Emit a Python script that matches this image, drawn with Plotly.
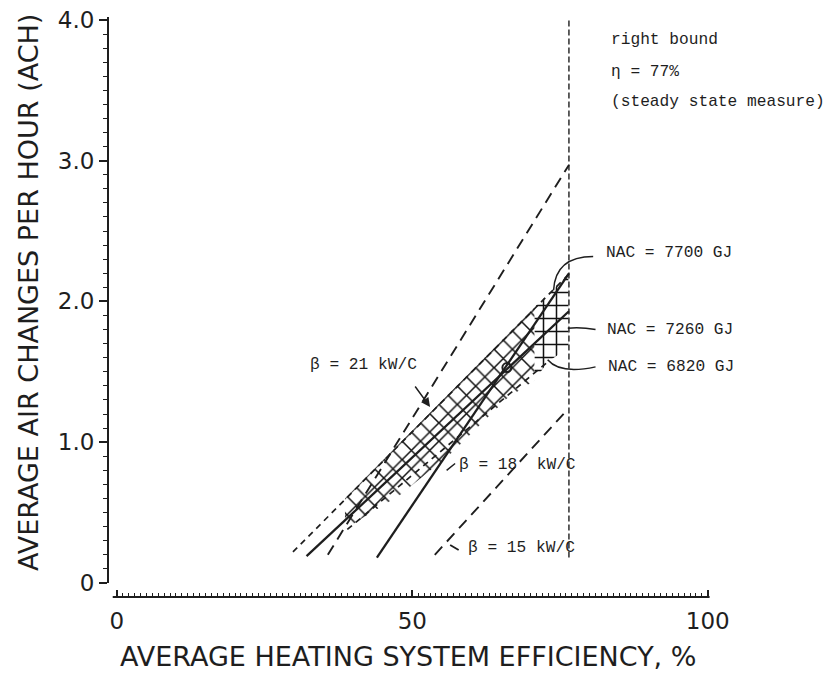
import plotly.graph_objects as go

# ---------------- data ----------------
# efficiency (%) / ACH end points of each drawn line
beta21_x = [35.7, 76.5]
beta21_y = [0.20, 2.97]
beta18_x = [44.0, 76.5]
beta18_y = [0.18, 2.20]
beta15_x = [53.8, 76.0]
beta15_y = [0.20, 1.22]
nac7700_x = [29.8, 76.4]
nac7700_y = [0.22, 2.19]
nac7260_x = [32.1, 76.5]
nac7260_y = [0.19, 1.93]
nac6820_x = [39.0, 72.9]
nac6820_y = [0.38, 1.57]
bound_x = [76.5, 76.5]
bound_y = [0.18, 4.0]
cross_x = [66.0]
cross_y = [1.53]

# hatched region (feasible zone)  -- diagonal-cross part and grid part
hatchA_x = [38.6, 70.7, 70.7, 66.0, 56.3, 47.9, 41.5, 38.6]
hatchA_y = [0.60, 1.96, 1.44, 1.31, 0.91, 0.625, 0.46, 0.38]
hatchB_x = [70.7, 76.4, 76.4, 72.9, 70.7]
hatchB_y = [1.96, 2.19, 1.67, 1.57, 1.44]

x_tickvals = list(range(0, 101, 10))
x_ticktext = ["0", "", "", "", "", "50", "", "", "", "", "100"]
y_tickvals = [0, 1, 2, 3, 4]
y_ticktext = ["0", "1.0", "2.0", "3.0", "4.0"]

INK = "#1e1e1e"
MONO = "Liberation Mono, DejaVu Sans Mono, monospace"
LETTER = "DejaVu Sans, sans-serif"

fig = go.Figure()

def hatch(xs, ys, shape):
    fig.add_trace(go.Scatter(
        x=xs, y=ys, mode="lines", fill="toself",
        line=dict(width=0, color="rgba(0,0,0,0)"),
        fillcolor="white",
        fillpattern=dict(shape=shape, size=13, solidity=0.22,
                         fgcolor="#111111", bgcolor="white", fillmode="replace"),
        hoverinfo="skip", showlegend=False))

hatch(hatchA_x, hatchA_y, "x")
hatch(hatchB_x, hatchB_y, "+")

def line(xs, ys, dash="solid", width=2.0):
    fig.add_trace(go.Scatter(x=xs, y=ys, mode="lines",
                             line=dict(color=INK, width=width, dash=dash),
                             hoverinfo="skip", showlegend=False))

line(beta21_x, beta21_y, dash="11px,7px", width=1.9)
line(beta18_x, beta18_y, width=2.3)
line(beta15_x, beta15_y, dash="11px,7px", width=1.9)
line(nac7700_x, nac7700_y, dash="6px,5px", width=1.7)
line(nac7260_x, nac7260_y, width=2.3)
line(nac6820_x, nac6820_y, dash="6px,5px", width=1.7)
line(bound_x, bound_y, dash="6px,3px", width=1.4)

fig.add_trace(go.Scatter(x=cross_x, y=cross_y, mode="markers",
                         marker=dict(symbol="circle-open", size=9,
                                     color=INK, line=dict(width=2)),
                         hoverinfo="skip", showlegend=False))

# ---------------- axes lines (disjoint, as in the drawing) ----------------
fig.add_shape(type="line", xref="paper", yref="y", x0=0, x1=0, y0=0, y1=4.02,
              line=dict(color=INK, width=2))
fig.add_shape(type="line", xref="x", yref="paper", x0=-0.7, x1=100.3, y0=0, y1=0,
              line=dict(color=INK, width=2))

# pointer curves
def path(d, w=1.5):
    fig.add_shape(type="path", xref="x", yref="y", path=d,
                  line=dict(color=INK, width=w))

path("M 80.6,2.32 Q 74.2,2.32 73.9,2.08")
path("M 81.0,1.80 Q 78.5,1.82 76.3,1.81")
path("M 81.0,1.535 Q 75.0,1.48 72.9,1.585")

# ---------------- text ----------------
def txt(x, y, s, size=16.2):
    fig.add_annotation(x=x, y=y, text=s, showarrow=False, xanchor="left",
                       yanchor="middle", font=dict(family=MONO, size=size, color=INK))

txt(83.2, 3.86, "right bound")
txt(83.2, 3.63, "\u03b7 = 77%")
txt(83.2, 3.42, "(steady state measure)")
txt(82.5, 2.345, "NAC = 7700 GJ")
txt(82.6, 1.80, "NAC = 7260 GJ")
txt(82.7, 1.535, "NAC = 6820 GJ")
txt(32.4, 1.55, "\u03b2 = 21 kW/C")
txt(57.5, 0.835, "\u03b2 = 18  kW/C")
txt(59.0, 0.25, "\u03b2 = 15 kW/C")

# small arrows of the labels
fig.add_annotation(x=53.0, y=1.25, ax=-16, ay=-22, text="", showarrow=True,
                   arrowhead=2, arrowsize=1.2, arrowwidth=1.5, arrowcolor=INK)
fig.add_annotation(x=55.8, y=0.80, ax=10, ay=-8, text="", showarrow=True,
                   arrowhead=0, arrowwidth=1.5, arrowcolor=INK)
fig.add_annotation(x=56.4, y=0.27, ax=10, ay=6, text="", showarrow=True,
                   arrowhead=0, arrowwidth=1.8, arrowcolor=INK)

# axis titles
fig.add_annotation(xref="paper", yref="paper", x=(408 - 108) / 718, y=-59 / 597,
                   text="AVERAGE HEATING SYSTEM EFFICIENCY, %", showarrow=False,
                   xanchor="center", yanchor="middle",
                   font=dict(family=LETTER, size=27, color=INK))
fig.add_annotation(xref="paper", yref="paper", x=-80 / 718, y=(597 - 293) / 597,
                   text="AVERAGE AIR CHANGES PER HOUR (ACH)", showarrow=False,
                   textangle=-90, xanchor="center", yanchor="middle",
                   font=dict(family=LETTER, size=27, color=INK))

fig.update_layout(
    width=826, height=676,
    margin=dict(l=108, r=0, t=0, b=79),
    paper_bgcolor="white", plot_bgcolor="white",
    showlegend=False,
    xaxis=dict(range=[-1.5, 120], showgrid=False, zeroline=False, showline=False,
               tickmode="array", tickvals=x_tickvals, ticktext=x_ticktext,
               ticks="inside", ticklen=7, tickwidth=1.5, tickcolor=INK,
               ticklabelstandoff=8,
               minor=dict(tickmode="array", tickvals=list(range(0, 101)),
                          ticks="inside", ticklen=4, tickwidth=1, tickcolor=INK),
               tickfont=dict(family="DejaVu Sans", size=23, color=INK)),
    yaxis=dict(range=[-0.1, 4.1416], showgrid=False, zeroline=False, showline=False,
               tickmode="array", tickvals=y_tickvals, ticktext=y_ticktext,
               ticks="outside", ticklen=8, tickwidth=1.5, tickcolor=INK,
               minor=dict(tickmode="array", tickvals=[i / 10 for i in range(41)],
                          ticks="outside", ticklen=4, tickwidth=1, tickcolor=INK),
               tickfont=dict(family="DejaVu Sans", size=23, color=INK)),
)

fig.write_html("out.html")
